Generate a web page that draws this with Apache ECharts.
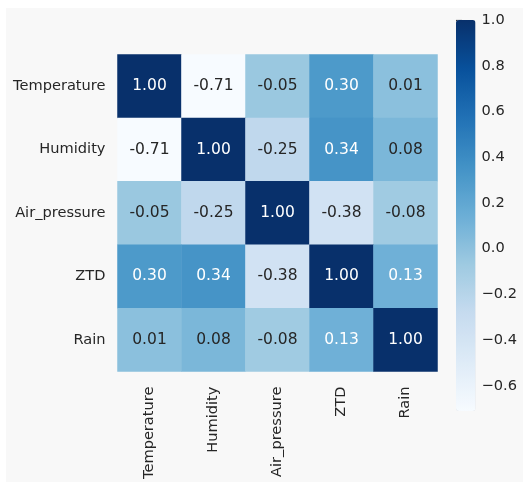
<!DOCTYPE html>
<html>
<head>
<meta charset="utf-8">
<script src="https://cdn.jsdelivr.net/npm/echarts@6/dist/echarts.min.js"></script>
<style>
    html, body { margin: 0; padding: 0; background: #ffffff; }
    #chart { position: absolute; left: 6px; top: 8px; width: 517px; height: 474px; }
</style>
</head>
<body>
<div id="chart"></div>
<script>
// variables (same order on both axes)
var variables = ["Temperature", "Humidity", "Air_pressure", "ZTD", "Rain"];

// correlation matrix, one row per variable
var rowTemperature = [1.00, -0.71, -0.05, 0.30, 0.01];
var rowHumidity    = [-0.71, 1.00, -0.25, 0.34, 0.08];
var rowAirPressure = [-0.05, -0.25, 1.00, -0.38, -0.08];
var rowZTD         = [0.30, 0.34, -0.38, 1.00, 0.13];
var rowRain        = [0.01, 0.08, -0.08, 0.13, 1.00];

// colour bar range and ticks
var colorMin = -0.71;
var colorMax = 1.00;
var colorTicks = [-0.6, -0.4, -0.2, 0.0, 0.2, 0.4, 0.6, 0.8, 1.0];

// matplotlib "Blues"
var blues = ["#f7fbff", "#deebf7", "#c6dbef", "#9ecae1", "#6baed6",
             "#4292c6", "#2171b5", "#08519c", "#08306b"];

var FONT = "DejaVu Sans";
var TEXT = "#262626";

function init() {
    var rows = [rowTemperature, rowHumidity, rowAirPressure, rowZTD, rowRain];
    var data = [];
    for (var r = 0; r < rows.length; r++) {
        for (var c = 0; c < rows[r].length; c++) {
            var v = rows[r][c];
            data.push({
                value: [c, r, v],
                label: { color: v > 0.1 ? "#ffffff" : TEXT }
            });
        }
    }

    var chart = echarts.init(document.getElementById("chart"));
    chart.setOption({
        backgroundColor: "#f8f8f8",
        animation: false,
        grid: [
            { left: 111.5, top: 46.5, width: 320, height: 320 },
            { left: 450, top: 12, width: 19.5, height: 391 }
        ],
        xAxis: [{
            type: "category",
            gridIndex: 0,
            data: variables,
            axisLine: { show: false },
            axisTick: { show: false },
            splitLine: { show: false },
            axisLabel: { rotate: 90, margin: 15, color: TEXT, fontFamily: FONT, fontSize: 14.6 }
        }, {
            type: "value",
            gridIndex: 1,
            show: false
        }],
        yAxis: [{
            type: "category",
            gridIndex: 0,
            data: variables,
            inverse: true,
            axisLine: { show: false },
            axisTick: { show: false },
            splitLine: { show: false },
            axisLabel: { margin: 12, color: TEXT, fontFamily: FONT, fontSize: 14.6 }
        }, {
            type: "value",
            gridIndex: 1,
            position: "right",
            min: colorMin,
            max: colorMax,
            axisLine: { show: false },
            splitLine: { show: false },
            axisTick: {
                show: true, length: 6, customValues: colorTicks,
                lineStyle: { color: TEXT, width: 1.2 }
            },
            axisLabel: {
                margin: 6,
                customValues: colorTicks,
                color: TEXT, fontFamily: FONT, fontSize: 14.6,
                formatter: function (v) {
                    var s = Math.abs(v).toFixed(1);
                    return v < -1e-9 ? "\u2212" + s : s;
                }
            }
        }],
        visualMap: {
            type: "continuous",
            seriesIndex: 0,
            min: colorMin,
            max: colorMax,
            calculable: false,
            realtime: false,
            hoverLink: false,
            padding: 0,
            left: 450,
            top: 12,
            itemWidth: 19.5,
            itemHeight: 391,
            text: null,
            showLabel: false,
            inRange: { color: blues }
        },
        series: [{
            type: "heatmap",
            xAxisIndex: 0,
            yAxisIndex: 0,
            data: data,
            label: {
                show: true,
                fontFamily: FONT,
                fontSize: 15.5,
                formatter: function (p) { return p.value[2].toFixed(2); }
            },
            emphasis: { disabled: true }
        }]
    });
}

init();
</script>
</body>
</html>
